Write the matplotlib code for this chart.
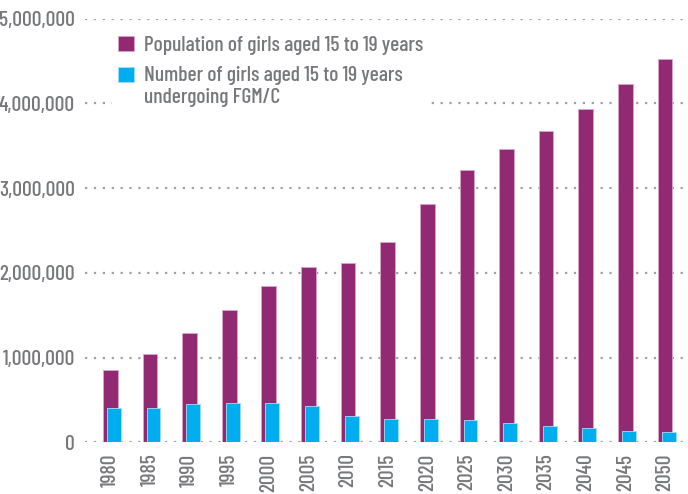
import numpy as np
import matplotlib.pyplot as plt
from matplotlib.ticker import FuncFormatter
from matplotlib.legend_handler import HandlerPatch

years = ['1980', '1985', '1990', '1995', '2000', '2005', '2010', '2015',
         '2020', '2025', '2030', '2035', '2040', '2045', '2050']
population = [849000, 1040000, 1285000, 1565000, 1840000, 2070000, 2120000, 2370000,
              2810000, 3210000, 3460000, 3680000, 3930000, 4230000, 4520000]
fgmc = [410000, 410000, 450000, 470000, 470000, 430000, 310000, 275000,
        275000, 260000, 225000, 190000, 170000, 135000, 120000]
labels = ['Population of girls aged 15 to 19 years',
          'Number of girls aged 15 to 19 years\nundergoing FGM/C']

purple = '#922a73'
cyan = '#00aeef'
grey = '#77787b'

plt.rcParams['font.family'] = ['Barlow Condensed', 'DejaVu Sans']
plt.rcParams['font.weight'] = 500


class TopLineHandler(HandlerPatch):
    # put the swatch level with the first line of a two-line label
    def create_artists(self, legend, orig_handle, xdescent, ydescent, width, height,
                       fontsize, trans):
        arts = super().create_artists(legend, orig_handle, xdescent, ydescent, width,
                                      height, fontsize, trans)
        for a in arts:
            a.set_y(a.get_y() + 0.56 * fontsize)
        return arts


fig = plt.figure(figsize=(6.88, 4.94), dpi=100)
ax = fig.add_axes([0.1235, 0.1046, 0.8765, 0.8576])

x = np.arange(len(years))
b1 = ax.bar(x, population, width=0.37, color=purple, edgecolor='#d9a6c9', linewidth=0.6,
            zorder=2)
b2 = ax.bar(x + 0.09, fgmc, width=0.35, color=cyan, edgecolor='#9fe0f8', linewidth=0.6,
            zorder=3)

ax.set_ylim(0, 5000000)
ax.set_xlim(-0.64, 14.58)
ax.set_yticks(np.arange(0, 5000001, 1000000))
ax.yaxis.set_major_formatter(FuncFormatter(lambda v, p: f'{int(v):,}'))
ax.set_xticks(x)
ax.set_xticklabels(years, rotation=90)
ax.grid(axis='y', color='#a0a0a0', linestyle=(0, (1, 3)), linewidth=1.6, zorder=0)
ax.set_axisbelow(True)
for s in ax.spines.values():
    s.set_visible(False)
ax.tick_params(axis='both', length=0, colors=grey, labelsize=15.5)
ax.tick_params(axis='y', pad=7)
ax.tick_params(axis='x', pad=8)

h1, h2 = b1.patches[0], b2.patches[0]
leg = ax.legend([h1, h2], labels, loc='upper left', bbox_to_anchor=(0.027, 1.0),
                frameon=True, facecolor='white', edgecolor='none', framealpha=1,
                fontsize=15.5, handlelength=0.7, handleheight=0.7, handletextpad=0.5,
                labelspacing=0.5, borderpad=0.3,
                handler_map={h2: TopLineHandler()})
for t in leg.get_texts():
    t.set_color(grey)
leg.set_zorder(5)

plt.savefig('out.png', dpi=100)
